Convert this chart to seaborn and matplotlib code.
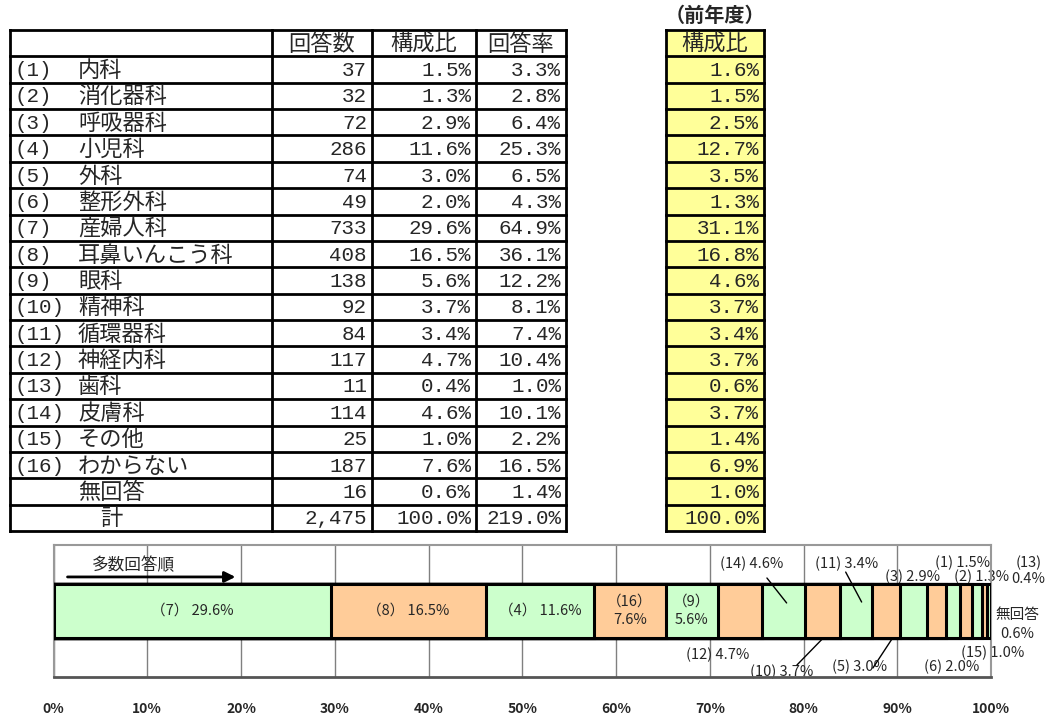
import numpy as np
import pandas as pd
import seaborn as sns
import matplotlib.pyplot as plt

sns.set_theme(style='white')
plt.rcParams['font.family'] = ['Noto Sans CJK JP', 'DejaVu Sans']

# table data
codes = ['(1)', '(2)', '(3)', '(4)', '(5)', '(6)', '(7)', '(8)', '(9)', '(10)',
         '(11)', '(12)', '(13)', '(14)', '(15)', '(16)', '', '']
names = ['内科', '消化器科', '呼吸器科', '小児科', '外科', '整形外科', '産婦人科',
         '耳鼻いんこう科', '眼科', '精神科', '循環器科', '神経内科', '歯科', '皮膚科',
         'その他', 'わからない', '無回答', '計']
counts = ['37', '32', '72', '286', '74', '49', '733', '408', '138', '92', '84',
          '117', '11', '114', '25', '187', '16', '2,475']
shares = ['1.5%', '1.3%', '2.9%', '11.6%', '3.0%', '2.0%', '29.6%', '16.5%', '5.6%',
          '3.7%', '3.4%', '4.7%', '0.4%', '4.6%', '1.0%', '7.6%', '0.6%', '100.0%']
rates = ['3.3%', '2.8%', '6.4%', '25.3%', '6.5%', '4.3%', '64.9%', '36.1%', '12.2%',
         '8.1%', '7.4%', '10.4%', '1.0%', '10.1%', '2.2%', '16.5%', '1.4%', '219.0%']
prev_shares = ['1.6%', '1.5%', '2.5%', '12.7%', '3.5%', '1.3%', '31.1%', '16.8%', '4.6%',
               '3.7%', '3.4%', '3.7%', '0.6%', '3.7%', '1.4%', '6.9%', '1.0%', '100.0%']

# band chart (sorted by count)
bar_labels = ['(7)', '(8)', '(4)', '(16)', '(9)', '(12)', '(14)', '(10)', '(11)',
              '(5)', '(3)', '(6)', '(1)', '(2)', '(15)', '無回答', '(13)']
bar_values = [29.6, 16.5, 11.6, 7.6, 5.6, 4.7, 4.6, 3.7, 3.4, 3.0, 2.9, 2.0, 1.5,
              1.3, 1.0, 0.6, 0.4]

W, H = 1046, 720
fig = plt.figure(figsize=(W / 100, H / 100), dpi=100)

# ---- table drawn in pixel coords ----
tab = fig.add_axes([0, 0, 1, 1])
tab.set_xlim(0, W)
tab.set_ylim(H, 0)
tab.axis('off')

top, rh = 30, 26.37
nrows = len(names) + 1
bot = top + nrows * rh
cols = [10, 272, 372, 476, 566]
pcols = [666, 764]
lw = 2
mono = ['Liberation Mono', 'Noto Sans CJK JP']
fs = 15
fs_jp = 16

tab.fill_between(pcols, top, bot, color='#FFFF99', lw=0)
for i in range(nrows + 1):
    y = top + i * rh
    tab.plot([cols[0], cols[-1]], [y, y], color='black', lw=lw, solid_capstyle='projecting')
    tab.plot(pcols, [y, y], color='black', lw=lw, solid_capstyle='projecting')
for x in cols + pcols:
    tab.plot([x, x], [top, bot], color='black', lw=lw, solid_capstyle='projecting')

for j, h in enumerate(['回答数', '構成比', '回答率']):
    tab.text((cols[j + 1] + cols[j + 2]) / 2, top + rh / 2 + 1, h,
             ha='center', va='center', fontsize=fs_jp)
tab.text(sum(pcols) / 2, top + rh / 2 + 1, '構成比', ha='center', va='center', fontsize=fs_jp)
tab.text(sum(pcols) / 2, 15, '（前年度）', ha='center', va='center',
         fontsize=14.5, fontweight='bold')

for i in range(len(names)):
    yc = top + (i + 1.5) * rh + 1
    if codes[i]:
        tab.text(14, yc, codes[i], family=mono, fontsize=fs, ha='left', va='center')
    nx = 100 if names[i] == '計' else 78
    tab.text(nx, yc, names[i], fontsize=fs_jp, ha='left', va='center')
    for j, vals in enumerate([counts, shares, rates]):
        tab.text(cols[j + 2] - 5, yc, vals[i], family=mono, fontsize=fs,
                 ha='right', va='center')
    tab.text(pcols[1] - 5, yc, prev_shares[i], family=mono, fontsize=fs,
             ha='right', va='center')

# ---- band chart ----
ax = fig.add_axes([53.5 / W, (H - 677) / H, (991 - 53.5) / W, 132 / H])
cum = np.cumsum(bar_values)
df = pd.DataFrame({'label': bar_labels, 'value': bar_values, 'end': cum, 'row': 'all'})
colors = ['#CCFFCC' if k % 2 == 0 else '#FFCC99' for k in range(len(df))]
pal = dict(zip(bar_labels, colors))
sns.barplot(data=df, x='end', y='row', hue='label', hue_order=bar_labels[::-1],
            palette=pal, saturation=1, dodge=False, width=0.41, edgecolor='black',
            linewidth=2.2, errorbar=None, legend=False, orient='h', ax=ax)
for p in ax.patches:
    p.set_zorder(3 + (100 - p.get_width()) / 100)

ax.set_xlim(0, 100)
ax.set_ylim(0.5, -0.5)
ax.set_yticks([])
ax.set_xlabel('')
ax.set_ylabel('')
ax.set_xticks(range(0, 101, 10))
ax.set_xticklabels([f'{t}%' for t in range(0, 101, 10)], fontsize=10, fontweight='bold')
ax.tick_params(axis='x', length=0, pad=18)
ax.grid(axis='x', color='#808080', lw=1)
ax.set_axisbelow(True)
for s in ['left', 'top', 'right']:
    ax.spines[s].set_color('#999999')
    ax.spines[s].set_linewidth(1.5)
ax.spines['bottom'].set_color('#555555')
ax.spines['bottom'].set_linewidth(2)


def fw(lab):
    return lab.replace('(', '（').replace(')', '）')


lfs = 10.5
# labels inside the bar
for k in range(5):
    xc = cum[k] - bar_values[k] / 2
    if bar_values[k] > 10:
        s = f'{fw(bar_labels[k])} {bar_values[k]:.1f}%'
    else:
        s = f'{fw(bar_labels[k])}\n{bar_values[k]:.1f}%'
    ax.text(xc, 0, s, ha='center', va='center', fontsize=lfs, zorder=10, linespacing=1.4)

# labels outside the bar: (x, y, two-line)
outside = {
    '(12)': (70.8, 0.333, False), '(14)': (74.5, -0.356, False),
    '(10)': (77.7, 0.462, False), '(11)': (84.6, -0.356, False),
    '(5)': (86.0, 0.424, False), '(3)': (91.6, -0.258, False),
    '(6)': (95.8, 0.424, False), '(1)': (97.0, -0.364, False),
    '(2)': (99.0, -0.258, False), '(15)': (100.2, 0.318, False),
    '無回答': (102.8, 0.102, True), '(13)': (104.0, -0.303, True),
}
leaders = {
    '(14)': [(76.1, -0.25), (78.2, -0.061)],
    '(11)': [(84.5, -0.295), (86.2, -0.068)],
    '(10)': [(82.1, 0.205), (79.3, 0.409)],
    '(5)': [(89.5, 0.205), (87.4, 0.432)],
}
for lab, (x, y, two) in outside.items():
    v = bar_values[bar_labels.index(lab)]
    s = f'{lab}\n{v:.1f}%' if two else f'{lab} {v:.1f}%'
    ax.text(x, y, s, ha='center', va='center', fontsize=lfs, zorder=2,
            clip_on=False, linespacing=1.2 if lab == '(13)' else 1.4)
for lab, pts in leaders.items():
    (x0, y0), (x1, y1) = pts
    ax.plot([x0, x1], [y0, y1], color='black', lw=1, zorder=12, clip_on=False)

ax.annotate('', xy=(19.7, -0.258), xytext=(1.2, -0.258),
            arrowprops=dict(arrowstyle='-|>', color='black', lw=2, mutation_scale=16),
            annotation_clip=False, zorder=10)
ax.text(8.5, -0.345, '多数回答順', ha='center', va='center', fontsize=12, zorder=10)

fig.savefig('out.png', dpi=100)
